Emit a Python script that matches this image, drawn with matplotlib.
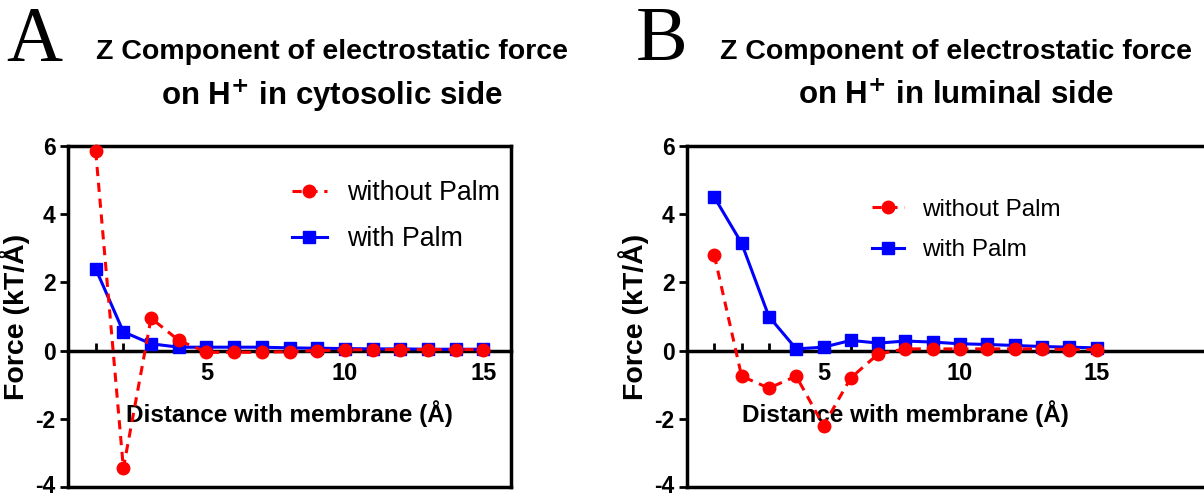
import matplotlib
matplotlib.use("Agg")
import matplotlib.pyplot as plt
import matplotlib.transforms as mtransforms

plt.rcParams['font.family'] = ['Liberation Sans', 'DejaVu Sans']
plt.rcParams['axes.unicode_minus'] = False

distance = list(range(1, 16))

# panel A - cytosolic side
cyto_without = [5.85, -3.45, 0.95, 0.3, -0.05, -0.05, -0.05, -0.03, 0.0, 0.02, 0.03, 0.03, 0.03, 0.03, 0.03]
cyto_with = [2.4, 0.55, 0.2, 0.1, 0.1, 0.1, 0.1, 0.08, 0.07, 0.06, 0.05, 0.05, 0.04, 0.04, 0.04]

# panel B - luminal side
lum_without = [2.8, -0.75, -1.1, -0.75, -2.2, -0.8, -0.1, 0.05, 0.05, 0.05, 0.05, 0.05, 0.05, 0.03, 0.03]
lum_with = [4.5, 3.15, 1.0, 0.05, 0.1, 0.3, 0.22, 0.28, 0.25, 0.2, 0.18, 0.15, 0.12, 0.1, 0.08]

RED = "#ff0000"
BLUE = "#0000ff"

W, H = 1204, 495
fig = plt.figure(figsize=(W / 100, H / 100), dpi=100)


def px(x0, y0, x1, y1):
    return [x0 / W, 1 - y1 / H, (x1 - x0) / W, (y1 - y0) / H]


def panel(rect, xmax, y_without, y_with, letter, letter_x, title2, title_cx,
          leg_x, leg_y, leg_fs):
    ax = fig.add_axes(rect)
    ax.plot(distance, y_without, color=RED, ls=(0, (3, 2.2)), lw=2.2, marker="o",
            ms=9, label="without Palm", clip_on=False, zorder=4)
    ax.plot(distance, y_with, color=BLUE, lw=2.2, marker="s", ms=8,
            label="with Palm", clip_on=False, zorder=3)
    ax.set_xlim(0, xmax)
    ax.set_ylim(-4, 6)
    ax.set_yticks([-4, -2, 0, 2, 4, 6])
    ax.set_xticks([])
    for s in ax.spines.values():
        s.set_linewidth(2.5)
    ax.tick_params(axis="y", direction="out", length=6, width=2, pad=3,
                   labelsize=16.5)
    for lab in ax.get_yticklabels():
        lab.set_fontweight("bold")
    # lift the bottom label a little so it stays inside the figure
    bottom_lab = ax.get_yticklabels()[0]
    bottom_lab.set_transform(bottom_lab.get_transform() +
                             mtransforms.ScaledTranslation(0, 3 / 100, fig.dpi_scale_trans))
    ax.set_ylabel("Force (kT/Å)", fontsize=20.5, fontweight="bold", labelpad=4)

    # x axis drawn through zero
    sec = ax.secondary_xaxis(0.4)
    sec.spines["bottom"].set_linewidth(2.5)
    sec.set_xticks([5, 10, 15])
    sec.set_xticks(distance, minor=True)
    sec.tick_params(which="both", direction="in", length=6, width=2, pad=8,
                    labelsize=17)
    for lab in sec.get_xticklabels():
        lab.set_fontweight("bold")
    ax.text(8, -1.85, "Distance with membrane (Å)", ha="center", va="center",
            fontsize=17.5, fontweight="bold", zorder=2)

    ax.legend(loc="center left", bbox_to_anchor=(leg_x / W, 1 - leg_y / H),
              bbox_transform=fig.transFigure, frameon=False, fontsize=leg_fs,
              handlelength=1.3, handletextpad=0.75, labelspacing=0.75,
              borderpad=0, borderaxespad=0, numpoints=1)

    fig.text(letter_x / W, 1 - 41 / H, letter, family="Liberation Serif",
             fontsize=56, ha="left", va="center")
    fig.text(title_cx / W, 1 - 52 / H, "Z Component of electrostatic force",
             fontsize=20.5, fontweight="bold", ha="center", va="center")
    fig.text(title_cx / W, 1 - 96 / H, title2, fontsize=22.5,
             fontweight="bold", ha="center", va="center")
    return ax


panel(px(68, 146, 511, 487), 16, cyto_without, cyto_with, "A", 6,
      r"on H$^{\mathbf{+}}$ in cytosolic side", 332, 292, 216, 19.3)
panel(px(687, 146, 687 + 20 * 27.3, 487), 20, lum_without, lum_with, "B", 636,
      r"on H$^{\mathbf{+}}$ in luminal side", 956, 872, 230, 17.5)

fig.savefig("out.png", dpi=100)
